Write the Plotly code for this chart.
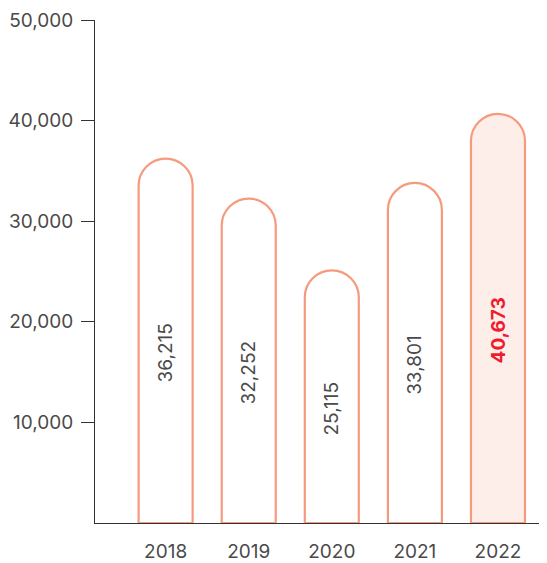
import plotly.graph_objects as go

years = ["2018", "2019", "2020", "2021", "2022"]
values = [36215, 32252, 25115, 33801, 40673]
fills = ["#FFFFFF", "#FFFFFF", "#FFFFFF", "#FFFFFF", "#FDEEE9"]
label_colors = ["#4A4A4A", "#4A4A4A", "#4A4A4A", "#4A4A4A", "#EE1C2E"]
label_bold = [False, False, False, False, True]
y_ticks = [10000, 20000, 30000, 40000, 50000]

fig = go.Figure()
fig.add_trace(go.Bar(
    x=years, y=values,
    marker=dict(color=fills, line=dict(color="#F69A7E", width=2.2), cornerradius="50%"),
    width=0.65,
    hoverinfo="skip",
))

for i, (v, c, b) in enumerate(zip(values, label_colors, label_bold)):
    txt = f"{v:,}"
    if b:
        txt = f"<b>{txt}</b>"
    fig.add_annotation(x=i, y=v / 2, xref="x", yref="y", text=txt, textangle=-90,
                       showarrow=False, yshift=-12,
                       font=dict(family="Inter", size=19, color=c))

fig.update_layout(
    width=539, height=555,
    margin=dict(l=85, r=0, t=12, b=37),
    plot_bgcolor="white", paper_bgcolor="white",
    showlegend=False,
    font=dict(family="Inter", size=19, color="#4A4A4A"),
    xaxis=dict(type="category", range=[-0.85, 4.59], showline=True, linecolor="#333333",
               linewidth=1, ticks="", showgrid=False, zeroline=False, ticklabelstandoff=11),
    yaxis=dict(range=[0, 50000], tickvals=y_ticks, tickformat=",", showline=True,
               linecolor="#333333", linewidth=1, ticks="outside", ticklen=13,
               tickcolor="#333333", showgrid=False, zeroline=False, ticklabelstandoff=4),
)

fig.write_html("out.html")
